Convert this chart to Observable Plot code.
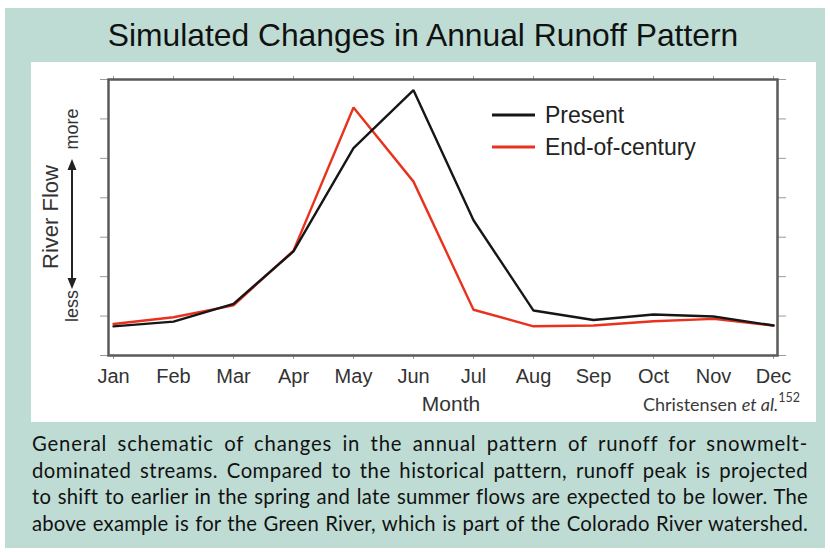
<!DOCTYPE html>
<html>
<head>
<meta charset="utf-8">
<script src="https://cdn.jsdelivr.net/npm/d3@7"></script>
<script src="https://cdn.jsdelivr.net/npm/@observablehq/plot@0.6"></script>
<style>
  html, body { margin: 0; padding: 0; background: #fff; }
  #panel { position: absolute; left: 5px; top: 8px; width: 820px; height: 540px; background: #bedcd4; }
  #title { position: absolute; left: 8px; top: 9px; width: 820px; text-align: center;
           font-family: "Liberation Sans", Arial, sans-serif; font-size: 31.8px; line-height: 36px; color: #111; }
  #chart { position: absolute; left: 26px; top: 54px; width: 785px; height: 360px; background: #fff; }
  #chart svg { display: block; }
  #credit { position: absolute; right: 16px; top: 330px; font-family: Lato, "Open Sans", sans-serif;
            font-size: 18px; color: #3a3a3a; white-space: nowrap; }
  #credit sup { font-size: 12.5px; position: relative; top: -2px; }
  #caption { position: absolute; left: 27px; top: 422px; width: 776px;
             font-family: Lato, "Open Sans", sans-serif; font-size: 20.3px; line-height: 26.6px; color: #111; }
  #caption div { white-space: nowrap; text-align: justify; text-align-last: justify; }
  .probe { position: absolute; left: 0; top: 0; visibility: hidden; white-space: nowrap;
           font-family: Lato, "Open Sans", sans-serif; font-size: 20.3px; }
</style>
</head>
<body>
<div id="panel">
  <div id="title">Simulated Changes in Annual Runoff Pattern</div>
  <div id="chart">
    <div id="credit">Christensen <i>et al.</i><sup>152</sup></div>
  </div>
  <div id="caption"></div>
</div>
<script>
// Month categories along the x axis
const months = ["Jan", "Feb", "Mar", "Apr", "May", "Jun", "Jul", "Aug", "Sep", "Oct", "Nov", "Dec"];

// Relative river flow (schematic units, 0 = bottom of frame)
const present      = [0.74, 0.86, 1.31, 2.64, 5.26, 6.73, 3.43, 1.14, 0.90, 1.04, 0.99, 0.76];
const endOfCentury = [0.80, 0.97, 1.27, 2.66, 6.29, 4.41, 1.16, 0.74, 0.76, 0.87, 0.93, 0.76];

const seriesNames  = ["Present", "End-of-century"];
const seriesColors = ["#161616", "#e8321e"];

const yTicks = [0, 1, 2, 3, 4, 5, 6, 7];

const captionLines = [
  "General schematic of changes in the annual pattern of runoff for snowmelt-",
  "dominated streams. Compared to the historical pattern, runoff peak is projected",
  "to shift to earlier in the spring and late summer flows are expected to be lower. The",
  "above example is for the Green River, which is part of the Colorado River watershed."
];

const rows = [
  ...months.map((m, i) => ({month: m, value: endOfCentury[i], series: seriesNames[1]})),
  ...months.map((m, i) => ({month: m, value: present[i], series: seriesNames[0]}))
];

const font = "Liberation Sans, Arial, Helvetica, sans-serif";

// Legend drawn in the upper right part of the frame
function legend(index, scales, values, dims) {
  const g = d3.create("svg:g").attr("font-family", font).attr("font-size", 23).attr("text-anchor", "start");
  const x0 = dims.marginLeft + 384, y0 = dims.marginTop + 36, step = 32;
  seriesNames.forEach((name, i) => {
    const y = y0 + i * step;
    g.append("line").attr("x1", x0).attr("x2", x0 + 43).attr("y1", y).attr("y2", y)
      .attr("stroke", seriesColors[i]).attr("stroke-width", 3);
    g.append("text").attr("x", x0 + 53).attr("y", y).attr("dy", "0.35em")
      .attr("fill", "#222").text(name);
  });
  return g.node();
}

// Vertical "River Flow" label with a double-headed less/more arrow
function flowLabel(index, scales, values, dims) {
  const g = d3.create("svg:g").attr("font-family", font).attr("fill", "#333");
  const cy = dims.marginTop + (dims.height - dims.marginTop - dims.marginBottom) / 2;
  const xl = dims.marginLeft - 58, xa = dims.marginLeft - 36;
  g.append("text").attr("transform", `translate(${xl},${cy}) rotate(-90)`)
    .attr("text-anchor", "middle").attr("dy", "0.35em").attr("font-size", 22).text("River Flow");
  g.append("text").attr("transform", `translate(${xa},${cy - 88}) rotate(-90)`)
    .attr("text-anchor", "middle").attr("dy", "0.35em").attr("font-size", 18).text("more");
  g.append("text").attr("transform", `translate(${xa},${cy + 89}) rotate(-90)`)
    .attr("text-anchor", "middle").attr("dy", "0.35em").attr("font-size", 18).text("less");
  const top = cy - 58, bot = cy + 72;
  g.append("line").attr("x1", xa).attr("x2", xa).attr("y1", top + 8).attr("y2", bot - 8)
    .attr("stroke", "#222").attr("stroke-width", 2);
  g.append("path").attr("d", `M${xa},${top}L${xa - 4.5},${top + 11}L${xa + 4.5},${top + 11}Z`).attr("fill", "#222");
  g.append("path").attr("d", `M${xa},${bot}L${xa - 4.5},${bot - 11}L${xa + 4.5},${bot - 11}Z`).attr("fill", "#222");
  return g.node();
}

const chart = Plot.plot({
  width: 785,
  height: 360,
  marginLeft: 77,
  marginRight: 39,
  marginTop: 17,
  marginBottom: 67,
  style: {fontFamily: font, background: "transparent", overflow: "visible"},
  x: {type: "point", domain: months, padding: 0},
  y: {domain: [0, 7]},
  color: {domain: seriesNames, range: seriesColors},
  marks: [
    Plot.axisY({anchor: "left", ticks: yTicks, tickSize: 8, tickFormat: () => "", stroke: "#9a9a9a", label: null}),
    Plot.axisY({anchor: "right", ticks: yTicks, tickSize: 8, tickFormat: () => "", stroke: "#9a9a9a", label: null}),
    Plot.axisX({anchor: "top", tickSize: 4, tickFormat: () => "", stroke: "#9a9a9a", label: null}),
    Plot.axisX({anchor: "bottom", tickSize: 4, tickPadding: 9, fontSize: 20, fill: "#333", stroke: "#9a9a9a", label: null}),
    Plot.line(rows, {x: "month", y: "value", z: "series", stroke: "series", strokeWidth: 2.4, strokeLinejoin: "miter"}),
    Plot.frame({stroke: "#5a5a5a", strokeWidth: 2.5}),
    Plot.text(["Month"], {frameAnchor: "bottom", dx: 8, dy: 55, fontSize: 21, fill: "#333"}),
    legend,
    flowLabel
  ]
});

document.getElementById("chart").prepend(chart);

// Caption: each line fills the full width; part of the spare room goes
// into letter spacing, the rest into word spacing via justification.
const cap = document.getElementById("caption");
const capWidth = 776;
const lineDivs = captionLines.map(t => {
  const d = document.createElement("div");
  d.textContent = t;
  cap.appendChild(d);
  return d;
});
function spaceCaption() {
  captionLines.forEach((t, i) => {
    const probe = document.createElement("span");
    probe.className = "probe";
    probe.textContent = t;
    document.body.appendChild(probe);
    const natural = probe.getBoundingClientRect().width;
    probe.remove();
    const slack = Math.max(0, capWidth - natural);
    const ls = Math.min(1, (slack * 0.55) / t.length);
    lineDivs[i].style.letterSpacing = ls.toFixed(3) + "px";
  });
}
spaceCaption();
if (document.fonts && document.fonts.ready) document.fonts.ready.then(spaceCaption);
</script>
</body>
</html>
